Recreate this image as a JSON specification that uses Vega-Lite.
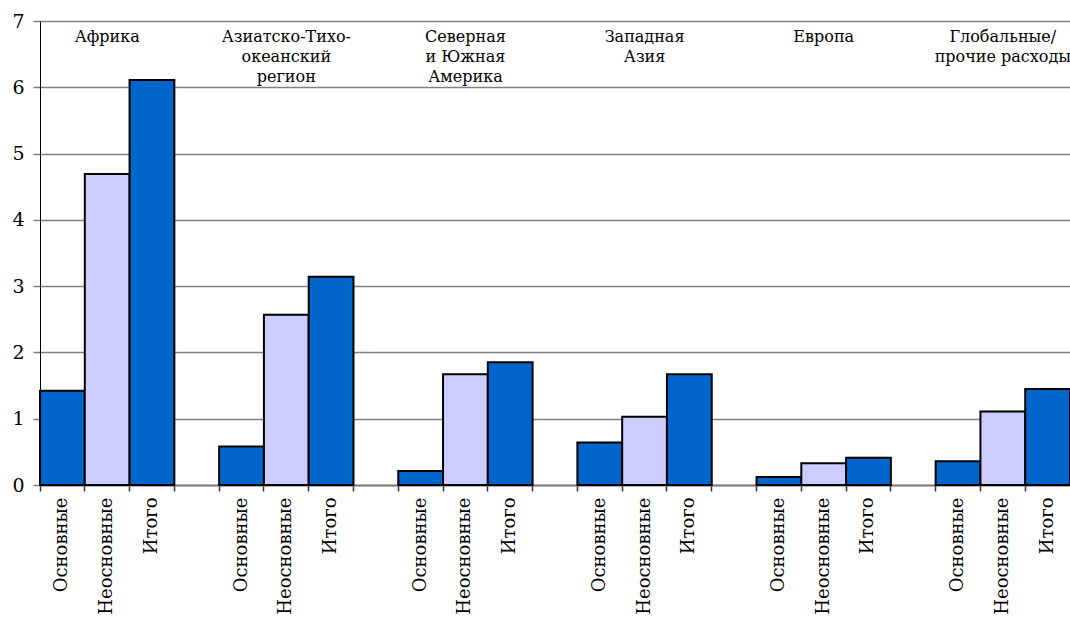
{
  "$schema": "https://vega.github.io/schema/vega-lite/v6.json",
  "width": 1030,
  "height": 464,
  "autosize": {"type": "none"},
  "padding": {"left": 40, "top": 21, "right": 0, "bottom": 133},
  "background": "white",
  "config": {
    "view": {"stroke": null},
    "font": "DejaVu Serif",
    "axis": {"labelFont": "DejaVu Serif"},
    "text": {"font": "DejaVu Serif"}
  },
  "datasets": {
    "bars": [
      {"slot": "Африка|Основные", "type": "Основные", "value": 1.42},
      {"slot": "Африка|Неосновные", "type": "Неосновные", "value": 4.69},
      {"slot": "Африка|Итого", "type": "Итого", "value": 6.11},
      {"slot": "АТР|Основные", "type": "Основные", "value": 0.58},
      {"slot": "АТР|Неосновные", "type": "Неосновные", "value": 2.57},
      {"slot": "АТР|Итого", "type": "Итого", "value": 3.14},
      {"slot": "Америка|Основные", "type": "Основные", "value": 0.21},
      {"slot": "Америка|Неосновные", "type": "Неосновные", "value": 1.67},
      {"slot": "Америка|Итого", "type": "Итого", "value": 1.85},
      {"slot": "ЗАзия|Основные", "type": "Основные", "value": 0.64},
      {"slot": "ЗАзия|Неосновные", "type": "Неосновные", "value": 1.03},
      {"slot": "ЗАзия|Итого", "type": "Итого", "value": 1.67},
      {"slot": "Европа|Основные", "type": "Основные", "value": 0.12},
      {"slot": "Европа|Неосновные", "type": "Неосновные", "value": 0.33},
      {"slot": "Европа|Итого", "type": "Итого", "value": 0.41},
      {"slot": "Глобальные|Основные", "type": "Основные", "value": 0.36},
      {"slot": "Глобальные|Неосновные", "type": "Неосновные", "value": 1.11},
      {"slot": "Глобальные|Итого", "type": "Итого", "value": 1.45}
    ],
    "regions": [
      {"slot": "Африка|Неосновные", "label": "Африка"},
      {"slot": "АТР|Неосновные", "label": "Азиатско-Тихо-\nокеанский\nрегион"},
      {"slot": "Америка|Неосновные", "label": "Северная\nи Южная\nАмерика"},
      {"slot": "ЗАзия|Неосновные", "label": "Западная\nАзия"},
      {"slot": "Европа|Неосновные", "label": "Европа"},
      {"slot": "Глобальные|Неосновные", "label": "Глобальные/\nпрочие расходы"}
    ]
  },
  "layer": [
    {
      "data": {"name": "bars"},
      "mark": {"type": "bar", "stroke": "black", "strokeWidth": 2, "strokeJoin": "miter"},
      "encoding": {
        "x": {
          "field": "slot",
          "type": "nominal",
          "sort": null,
          "scale": {
            "domain": [
              "Африка|Основные", "Африка|Неосновные", "Африка|Итого", "gap1",
              "АТР|Основные", "АТР|Неосновные", "АТР|Итого", "gap2",
              "Америка|Основные", "Америка|Неосновные", "Америка|Итого", "gap3",
              "ЗАзия|Основные", "ЗАзия|Неосновные", "ЗАзия|Итого", "gap4",
              "Европа|Основные", "Европа|Неосновные", "Европа|Итого", "gap5",
              "Глобальные|Основные", "Глобальные|Неосновные", "Глобальные|Итого"
            ],
            "paddingInner": 0,
            "paddingOuter": 0
          },
          "axis": {
            "title": null,
            "bandPosition": 0,
            "labelAngle": -90,
            "labelAlign": "right",
            "labelBaseline": "middle",
            "labelFont": "DejaVu Serif",
            "labelFontSize": 18,
            "labelColor": "black",
            "labelPadding": 6,
            "labelExpr": "indexof(datum.value, '|') >= 0 ? split(datum.value, '|')[1] : ''",
            "labelOverlap": false,
            "labelBound": false,
            "ticks": true,
            "tickSize": 6,
            "tickColor": "#333333",
            "tickWidth": 1.5,
            "domainColor": "#808080",
            "domainWidth": 2,
            "grid": false
          }
        },
        "y": {
          "field": "value",
          "type": "quantitative",
          "scale": {"domain": [0, 7], "nice": false},
          "axis": {
            "title": null,
            "values": [0, 1, 2, 3, 4, 5, 6, 7],
            "format": "d",
            "grid": true,
            "gridColor": "#808080",
            "gridWidth": 1.5,
            "gridOpacity": 1,
            "domainColor": "black",
            "domainWidth": 1,
            "tickColor": "#808080",
            "tickWidth": 1.5,
            "tickSize": 7,
            "labelPadding": 9,
            "labelFont": "DejaVu Serif",
            "labelFontSize": 19,
            "labelColor": "black"
          }
        },
        "color": {
          "field": "type",
          "type": "nominal",
          "scale": {
            "domain": ["Основные", "Неосновные", "Итого"],
            "range": ["#0066CC", "#CCCCFF", "#0066CC"]
          },
          "legend": null
        }
      }
    },
    {
      "data": {"name": "regions"},
      "mark": {
        "type": "text",
        "font": "DejaVu Serif",
        "fontSize": 16,
        "lineHeight": 20,
        "lineBreak": "\n",
        "align": "center",
        "baseline": "alphabetic",
        "dy": 21,
        "color": "black"
      },
      "encoding": {
        "x": {"field": "slot", "type": "nominal", "sort": null},
        "y": {"datum": 7, "type": "quantitative"},
        "text": {"field": "label", "type": "nominal"}
      }
    }
  ]
}
